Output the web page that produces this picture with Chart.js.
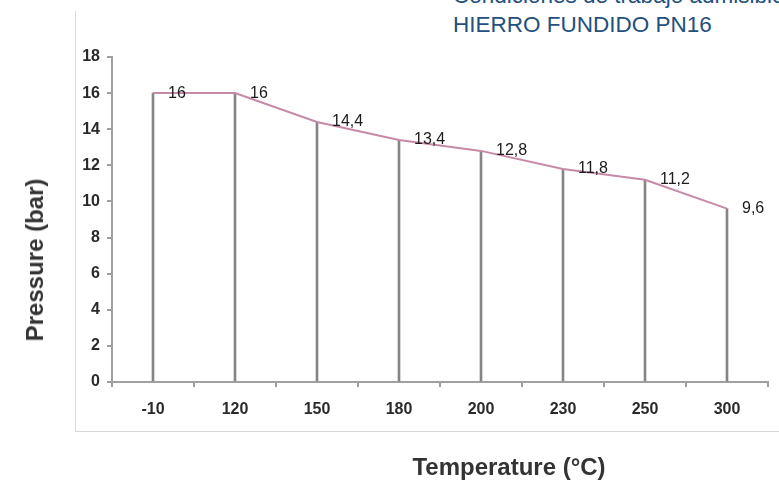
<!DOCTYPE html>
<html lang="es">
<head>
<meta charset="UTF-8">
<title>Hierro fundido PN16 - presión / temperatura</title>
<script src="https://cdn.jsdelivr.net/npm/chart.js"></script>
<style>
  body { margin: 0; background: #fff; overflow: hidden; }
  #wrap { position: relative; width: 779px; height: 482px; overflow: hidden; font-family: "Liberation Sans", Arial, sans-serif; }
  #marco { position: absolute; left: 75px; top: 11px; width: 720px; height: 420px; border-left: 1px solid #dadada; border-bottom: 1px solid #d6d6d6; }
  #titulo { position: absolute; left: 453px; top: -19px; font-size: 22.5px; line-height: 29px; color: #23507e; white-space: nowrap; }
  .eje { position: absolute; white-space: nowrap; font-size: 24px; font-weight: bold; color: #333; }
  #ejeY { left: 35px; top: 260px; transform: translate(-50%, -50%) rotate(-90deg); }
  #ejeX { left: 509px; top: 467px; transform: translate(-50%, -50%); }
  canvas { position: absolute; left: 0; top: 0; }
</style>
</head>
<body>
<div id="wrap">
  <div id="marco"></div>
  <div id="titulo">Condiciones de trabajo admisibles<br>HIERRO FUNDIDO PN16</div>
  <canvas id="grafico" width="779" height="482"></canvas>
  <div class="eje" id="ejeY">Pressure (bar)</div>
  <div class="eje" id="ejeX">Temperature (°C)</div>
</div>
<script>
// temperaturas (°C) y presión admisible (bar)
const temperaturas = ['-10', '120', '150', '180', '200', '230', '250', '300'];
const presiones = [16, 16, 14.4, 13.4, 12.8, 11.8, 11.2, 9.6];
const etiquetas = ['16', '16', '14,4', '13,4', '12,8', '11,8', '11,2', '9,6'];
const ticksY = [0, 2, 4, 6, 8, 10, 12, 14, 16, 18];

const fuente = { family: '"Liberation Sans", Arial, sans-serif', size: 16, weight: 'bold' };

// escribe el valor a la derecha de cada punto de la línea
const valores = {
  id: 'valores',
  afterDatasetsDraw(chart) {
    const meta = chart.getDatasetMeta(0);
    const ctx = chart.ctx;
    ctx.save();
    ctx.font = '16px "Liberation Sans", Arial, sans-serif';
    ctx.fillStyle = '#1c1c1c';
    ctx.textAlign = 'left';
    ctx.textBaseline = 'middle';
    meta.data.forEach((p, i) => {
      ctx.fillText(etiquetas[i], p.x + 15, p.y);
    });
    ctx.restore();
  }
};

new Chart(document.getElementById('grafico'), {
  type: 'bar',
  data: {
    labels: temperaturas,
    datasets: [
      {
        type: 'line',
        data: presiones,
        borderColor: '#c68aa8',
        borderWidth: 2,
        pointRadius: 0,
        tension: 0,
        order: 0
      },
      {
        type: 'bar',
        data: presiones,
        backgroundColor: '#858585',
        barThickness: 2,
        order: 1
      }
    ]
  },
  options: {
    responsive: false,
    animation: false,
    layout: { padding: { left: 75, right: 11, top: 57, bottom: 0 } },
    plugins: { legend: { display: false }, tooltip: { enabled: false } },
    scales: {
      x: {
        offset: true,
        grid: { offset: true, drawOnChartArea: false, tickLength: 5, color: '#9e9e9e', lineWidth: 2 },
        border: { color: '#a0a0a0', width: 2 },
        ticks: { color: '#2a2a2a', font: fuente, padding: 13 },
        afterFit(scale) { scale.height = 100; }
      },
      y: {
        min: 0,
        max: 18,
        afterBuildTicks(scale) { scale.ticks = ticksY.map(v => ({ value: v })); },
        grid: { drawOnChartArea: false, tickLength: 5, color: '#9e9e9e', lineWidth: 2 },
        border: { color: '#a0a0a0', width: 2 },
        ticks: { color: '#2a2a2a', font: fuente, padding: 7 },
        afterFit(scale) { scale.width = 37; }
      }
    }
  },
  plugins: [valores]
});
</script>
</body>
</html>
